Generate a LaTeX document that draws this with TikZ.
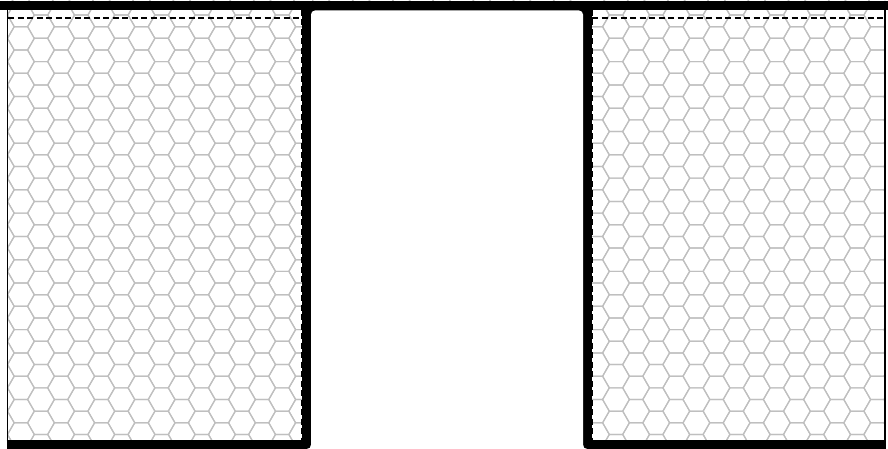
\documentclass[tikz,border=0pt]{standalone}
\usetikzlibrary{calc}
\tikzset{
  hexline/.style={draw=black!25, line width=1.2pt},
  wall/.style={draw=black, line width=9pt, line join=round},
  thinwall/.style={draw=black, line width=1.9pt},
  dashline/.style={draw=black, line width=1.6pt, dash pattern=on 6pt off 3.5pt},
}
\newcommand{\hexgrid}[4]{% x0, y0, ncols, nrows
  \foreach \i in {0,...,#3}{
    \foreach \j in {-1,...,#4}{
      \pgfmathsetmacro{\cx}{#1+\i*20.1}
      \pgfmathsetmacro{\cy}{#2+\j*23.3-mod(\i,2)*11.65}
      \draw[hexline] (\cx+13.4,\cy) -- (\cx+6.7,\cy+11.65) -- (\cx-6.7,\cy+11.65)
        -- (\cx-13.4,\cy) -- (\cx-6.7,\cy-11.65) -- (\cx+6.7,\cy-11.65) -- cycle;
    }
  }
}
\begin{document}
\begin{tikzpicture}[x=1pt,y=-1pt]
\useasboundingbox (0,0) rectangle (888,449);
\clip (0,0) rectangle (888,449);
% hexagon fill, left panel
\begin{scope}
  \clip (8,0) rectangle (302,441);
  \hexgrid{0.8}{3.4}{16}{19}
\end{scope}
% hexagon fill, right panel
\begin{scope}
  \clip (592,0) rectangle (885,441);
  \hexgrid{575.8}{3.4}{16}{19}
\end{scope}
% faint strip at the very top of the opening
\begin{scope}
  \clip (312,0) rectangle (582,1.4);
  \hexgrid{300.8}{3.4}{15}{0}
\end{scope}
% dashed lines
\draw[dashline] (8,18.3) -- (301,18.3);
\draw[dashline] (592,18.3) -- (885,18.3);
\draw[dashline] (301.4,10) -- (301.4,440);
\draw[dashline] (592.2,10) -- (592.2,440);
% thin outer sides
\draw[thinwall] (7.5,6) -- (7.5,444);
\draw[thinwall] (885.2,6) -- (885.2,444);
% top bar
\fill[black] (0,1.5) rectangle (888,10.5);
% walls with bottom bars
\draw[wall] (6.6,444.5) -- (306.5,444.5) -- (306.5,6);
\draw[wall] (587.5,6) -- (587.5,444.5) -- (886,444.5);
% rounded inner top corners of the opening
\fill[black] (311,10) rectangle (583,20);
\fill[white, rounded corners=4pt] (311,10.5) rectangle (583,470);
\end{tikzpicture}
\end{document}
